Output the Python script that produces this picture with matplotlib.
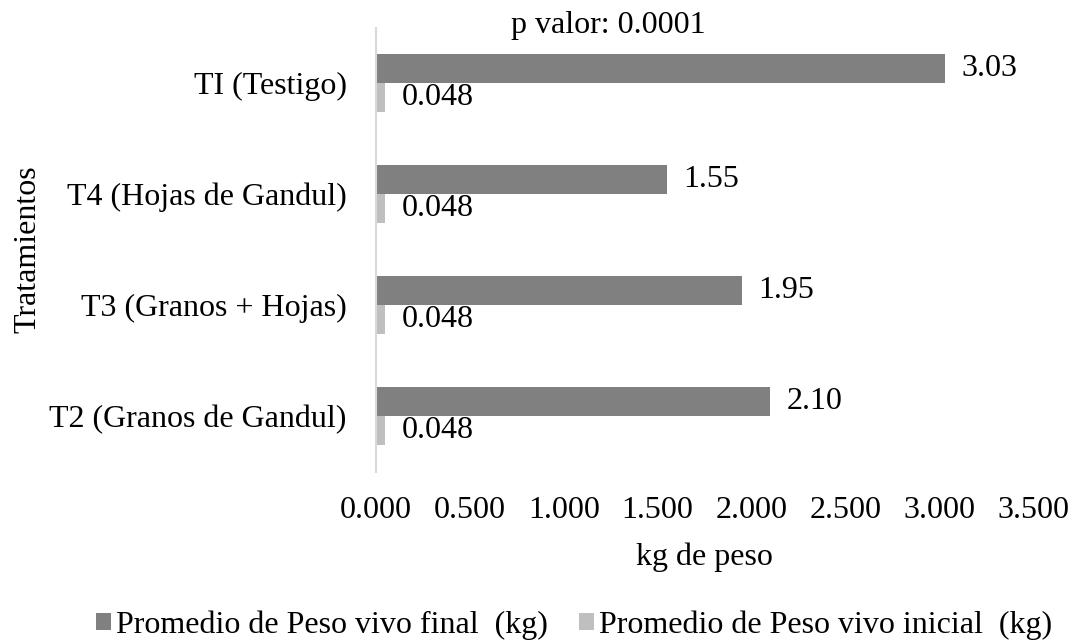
import numpy as np
import matplotlib.pyplot as plt
from matplotlib.patches import Patch

# Data (bottom to top, as drawn)
categories = ["T2 (Granos de Gandul)", "T3 (Granos + Hojas)", "T4 (Hojas de Gandul)", "TI (Testigo)"]
peso_final = [2.10, 1.95, 1.55, 3.03]
peso_inicial = [0.048, 0.048, 0.048, 0.048]
final_labels = ["2.10", "1.95", "1.55", "3.03"]
inicial_labels = ["0.048", "0.048", "0.048", "0.048"]
xticks = [0.0, 0.5, 1.0, 1.5, 2.0, 2.5, 3.0, 3.5]
serie_final = "Promedio de Peso vivo final  (kg)"
serie_inicial = "Promedio de Peso vivo inicial  (kg)"

plt.rcParams['font.family'] = ['Liberation Serif', 'DejaVu Serif']
FS = 23

C_FINAL = '#808080'
C_INICIAL = '#bfbfbf'

fig = plt.figure(figsize=(10.73, 6.44), dpi=100)
ax = fig.add_axes([376 / 1073, 1 - 471.5 / 644, 657 / 1073, 444 / 644])

y = np.arange(len(categories))
h = 0.261
ax.barh(y + h / 2, peso_final, height=h, color=C_FINAL)
ax.barh(y - h / 2, peso_inicial, height=h, color=C_INICIAL)

# data labels just past the bar ends
for i in range(len(categories)):
    ax.annotate(final_labels[i], (peso_final[i], y[i] + h / 2), xytext=(12, 0),
                textcoords='offset points', va='center', ha='left', fontsize=FS)
    ax.annotate(inicial_labels[i], (peso_inicial[i], y[i] - h / 2), xytext=(12, 0),
                textcoords='offset points', va='center', ha='left', fontsize=FS)

ax.set_xlim(0, 3.5)
ax.set_ylim(-0.5, len(categories) - 0.5)
ax.set_xticks(xticks)
ax.set_xticklabels([f"{v:.3f}" for v in xticks], fontsize=FS)
ax.set_yticks(y)
ax.set_yticklabels(categories, fontsize=FS)
ax.tick_params(axis='both', length=0)
ax.tick_params(axis='y', pad=21)
ax.tick_params(axis='x', pad=18)

for s in ['top', 'right', 'bottom']:
    ax.spines[s].set_visible(False)
ax.spines['left'].set_color('#d9d9d9')
ax.spines['left'].set_linewidth(1.5)

ax.set_xlabel("kg de peso", fontsize=FS, labelpad=12)
ax.set_ylabel("Tratamientos", fontsize=FS, labelpad=5)

ax.text(0.353, 1.005, "p valor: 0.0001", transform=ax.transAxes, ha='center', va='center', fontsize=FS)

handles = [Patch(facecolor=C_FINAL, label=serie_final), Patch(facecolor=C_INICIAL, label=serie_inicial)]
fig.legend(handles=handles, loc='center', bbox_to_anchor=(0.535, 1 - 625 / 644), ncol=2, frameon=False,
           fontsize=FS, handlelength=0.45, handleheight=0.45, handletextpad=0.15, columnspacing=1.0)

fig.savefig("out.png", dpi=100)
